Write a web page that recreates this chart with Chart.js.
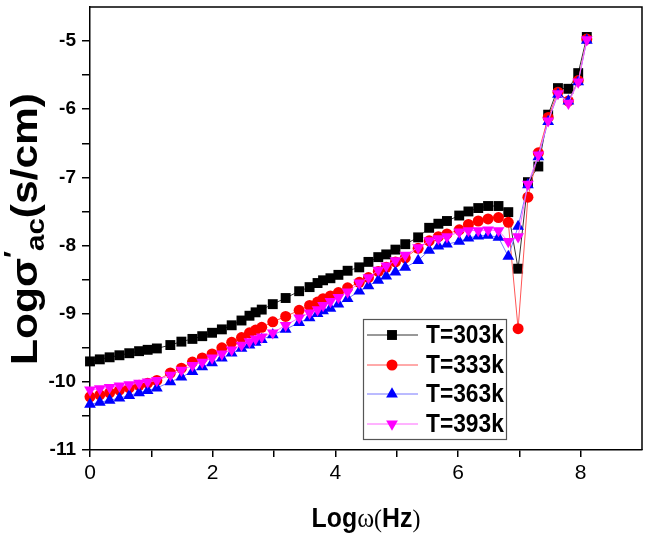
<!DOCTYPE html>
<html><head><meta charset="utf-8">
<script src="https://cdn.jsdelivr.net/npm/chart.js@4.4.1/dist/chart.umd.min.js"></script>
<style>html,body{margin:0;padding:0;background:#fff}canvas{display:block}</style>
</head><body>
<canvas id="c" width="649" height="534"></canvas>
<script>
// Log of angular frequency (x values)
const logW = [0.00,0.16,0.32,0.48,0.64,0.80,0.94,1.09,1.31,1.49,1.67,1.83,1.99,2.15,2.31,2.47,2.60,2.70,2.80,2.98,
  3.19,3.41,3.58,3.71,3.80,3.92,4.05,4.20,4.39,4.54,4.70,4.83,4.98,5.14,5.35,5.53,5.68,5.82,6.02,6.17,
  6.33,6.49,6.66,6.82,6.98,7.14,7.31,7.47,7.63,7.80,7.96,8.10];
// Log sigma'ac values per temperature
const sig303 = [-9.70,-9.67,-9.64,-9.61,-9.58,-9.55,-9.53,-9.51,-9.46,-9.41,-9.37,-9.33,-9.28,-9.23,-9.17,-9.10,-9.03,-8.98,-8.94,-8.86,
  -8.77,-8.67,-8.61,-8.55,-8.51,-8.48,-8.43,-8.37,-8.32,-8.24,-8.17,-8.13,-8.06,-7.98,-7.88,-7.74,-7.68,-7.64,-7.56,-7.50,
  -7.45,-7.42,-7.42,-7.51,-8.34,-7.07,-6.84,-6.08,-5.69,-5.70,-5.47,-4.94];
const sig333 = [-10.22,-10.19,-10.16,-10.12,-10.09,-10.05,-10.02,-9.98,-9.87,-9.80,-9.71,-9.65,-9.59,-9.50,-9.42,-9.35,-9.28,-9.24,-9.20,-9.12,
  -9.04,-8.95,-8.88,-8.83,-8.78,-8.74,-8.69,-8.62,-8.54,-8.47,-8.38,-8.32,-8.24,-8.18,-8.04,-7.93,-7.87,-7.83,-7.77,-7.69,
  -7.64,-7.61,-7.59,-7.66,-9.22,-7.29,-6.64,-6.12,-5.75,-5.88,-5.58,-4.97];
const sig363 = [-10.33,-10.30,-10.27,-10.24,-10.20,-10.16,-10.13,-10.09,-10.00,-9.93,-9.85,-9.78,-9.72,-9.65,-9.58,-9.51,-9.46,-9.42,-9.38,-9.31,
  -9.23,-9.13,-9.06,-9.00,-8.96,-8.92,-8.86,-8.78,-8.67,-8.59,-8.51,-8.45,-8.39,-8.32,-8.22,-8.07,-8.01,-7.98,-7.94,-7.89,
  -7.86,-7.85,-7.88,-8.16,-7.72,-7.11,-6.70,-6.18,-5.78,-5.88,-5.60,-4.99];
const sig393 = [-10.12,-10.10,-10.08,-10.06,-10.04,-10.02,-10.00,-9.98,-9.90,-9.83,-9.76,-9.71,-9.65,-9.59,-9.53,-9.46,-9.41,-9.37,-9.34,-9.28,
  -9.17,-9.06,-8.99,-8.94,-8.88,-8.82,-8.76,-8.68,-8.55,-8.47,-8.36,-8.30,-8.22,-8.14,-8.03,-7.93,-7.90,-7.87,-7.80,-7.78,
  -7.78,-7.77,-7.78,-7.94,-7.87,-7.10,-6.67,-6.17,-5.77,-5.91,-5.60,-4.98];
const seriesLabels = ['T=303k','T=333k','T=363k','T=393k'];
const xTickValues = [0,2,4,6,8];
const yTickValues = [-11,-10,-9,-8,-7,-6,-5];

const SANS = '"Liberation Sans", Arial, sans-serif';
const SERIF = '"Liberation Serif", "Times New Roman", serif';

const styles = [
  {line:'#333333', fill:'#000000', shape:'rect', r:7, rot:0},
  {line:'#ff5555', fill:'#ff0000', shape:'circle', r:5.5, rot:0},
  {line:'#7777ff', fill:'#0000ff', shape:'triangle', r:6.8, rot:0},
  {line:'#ff66ff', fill:'#ff00ff', shape:'triangle', r:6.8, rot:180}
];
const seriesData = [sig303, sig333, sig363, sig393];

const datasets = seriesData.map((arr, k) => ({
  label: seriesLabels[k],
  data: logW.map((x, i) => ({x: x, y: arr[i]})),
  borderColor: styles[k].line,
  borderWidth: 1,
  backgroundColor: styles[k].fill,
  pointBackgroundColor: styles[k].fill,
  pointBorderColor: styles[k].fill,
  pointBorderWidth: 0,
  pointStyle: styles[k].shape,
  pointRadius: styles[k].r,
  pointRotation: styles[k].rot,
  tension: 0,
  clip: false,
  order: 4 - k
}));

function drawMarker(ctx, shape, x, y, r, rot, color) {
  ctx.save();
  ctx.fillStyle = color;
  ctx.beginPath();
  if (shape === 'rect') {
    const s = r * Math.SQRT1_2;
    ctx.rect(x - s, y - s, 2 * s, 2 * s);
  } else if (shape === 'circle') {
    ctx.arc(x, y, r, 0, Math.PI * 2);
  } else {
    let a = rot * Math.PI / 180;
    ctx.moveTo(x + Math.sin(a) * r, y - Math.cos(a) * r);
    a += 2 * Math.PI / 3;
    ctx.lineTo(x + Math.sin(a) * r, y - Math.cos(a) * r);
    a += 2 * Math.PI / 3;
    ctx.lineTo(x + Math.sin(a) * r, y - Math.cos(a) * r);
    ctx.closePath();
  }
  ctx.fill();
  ctx.restore();
}

function condensedText(ctx, text, font, x, y, sx, align, baseline) {
  ctx.save();
  ctx.font = font;
  ctx.textAlign = align || 'left';
  ctx.textBaseline = baseline || 'alphabetic';
  ctx.translate(x, y);
  ctx.scale(sx, 1);
  ctx.fillText(text, 0, 0);
  ctx.restore();
}

const decor = {
  id: 'decor',
  afterDraw(chart) {
    const ctx = chart.ctx;
    const a = chart.chartArea;
    ctx.save();
    // top and right frame
    ctx.strokeStyle = '#000';
    ctx.lineWidth = 1.5;
    ctx.beginPath();
    ctx.moveTo(a.left, a.top);
    ctx.lineTo(a.right, a.top);
    ctx.lineTo(a.right, a.bottom);
    ctx.stroke();

    // X title: Logω(Hz)
    ctx.fillStyle = '#000';
    const sx = 0.92;
    const parts = [
      {t:'Log', f:'bold 27px ' + SANS},
      {t:'\u03C9', f:'28px ' + SERIF},
      {t:'(', f:'26px ' + SERIF},
      {t:'Hz', f:'bold 27px ' + SANS},
      {t:')', f:'26px ' + SERIF}
    ];
    let total = 0;
    parts.forEach(p => { ctx.font = p.f; p.w = ctx.measureText(p.t).width * sx; total += p.w; });
    let x = (a.left + a.right) / 2 - total / 2;
    parts.forEach(p => { condensedText(ctx, p.t, p.f, x, 527, sx); x += p.w; });

    // Y title: Logσ'ac(s/cm) rotated
    ctx.save();
    ctx.translate(37, 229);
    ctx.rotate(-Math.PI / 2);
    ctx.scale(1.18, 1);
    const big = 'bold 36px ' + SANS;
    const small = 'bold 25px ' + SANS;
    const yp = [
      {t:'Log\u03C3', f:big, dy:0},
      {t:'\u2032', f:small, dy:-15},
      {t:'ac', f:small, dy:7},
      {t:'(s/cm)', f:big, dy:0}
    ];
    let tot = 0;
    yp.forEach(p => { ctx.font = p.f; p.w = ctx.measureText(p.t).width; tot += p.w; });
    let tx = -tot / 2;
    yp.forEach(p => { ctx.font = p.f; ctx.textAlign = 'left'; ctx.textBaseline = 'alphabetic'; ctx.fillText(p.t, tx, p.dy); tx += p.w; });
    ctx.restore();

    // Legend
    const lx = 363, ly = 319, lw = 143, lh = 120;
    ctx.strokeStyle = '#555';
    ctx.lineWidth = 1.2;
    ctx.strokeRect(lx + 0.5, ly + 0.5, lw, lh);
    const rows = [335, 365, 394, 424];
    rows.forEach((ry, k) => {
      const st = styles[k];
      ctx.strokeStyle = st.line;
      ctx.lineWidth = 1;
      ctx.beginPath();
      ctx.moveTo(367, ry);
      ctx.lineTo(418, ry);
      ctx.stroke();
      drawMarker(ctx, st.shape, 392, ry, st.r, st.rot, st.fill);
      ctx.fillStyle = '#000';
      condensedText(ctx, seriesLabels[k], 'bold 25px ' + SANS, 426, ry + 1, 0.91, 'left', 'middle');
    });
    ctx.restore();
  }
};

new Chart(document.getElementById('c'), {
  type: 'line',
  data: { datasets: datasets },
  options: {
    responsive: false,
    animation: false,
    devicePixelRatio: 1,
    layout: { padding: { left: 0, right: 6, top: 4, bottom: 0 } },
    plugins: { legend: { display: false }, tooltip: { enabled: false } },
    scales: {
      x: {
        type: 'linear', min: 0, max: 9,
        afterFit(s) { s.height = 84; s.paddingLeft = 0; s.paddingRight = 0; },
        afterBuildTicks(s) { s.ticks = s.ticks.filter(t => t.value < 8.5); },
        ticks: {
          stepSize: 1, autoSkip: false, maxRotation: 0, padding: 4, color: '#000',
          font: { family: SANS, size: 21 },
          callback: v => xTickValues.includes(v) ? String(v) : ''
        },
        grid: { drawOnChartArea: false, drawTicks: true, tickLength: 7, color: '#000', lineWidth: 1.5 },
        border: { display: true, color: '#000', width: 1.5 }
      },
      y: {
        type: 'linear', min: -11, max: -4.5,
        afterFit(s) { s.width = 90; s.paddingTop = 0; s.paddingBottom = 0; },
        afterBuildTicks(s) { s.ticks = s.ticks.filter(t => t.value < -4.6); },
        ticks: {
          stepSize: 0.5, autoSkip: false, padding: 6, color: '#000',
          font: { family: SANS, size: 19, weight: 'bold' },
          callback: v => yTickValues.includes(v) ? String(v) : ''
        },
        grid: { drawOnChartArea: false, drawTicks: true, tickLength: 8, color: '#000', lineWidth: 1.5 },
        border: { display: true, color: '#000', width: 1.5 }
      }
    }
  },
  plugins: [decor]
});
</script>
</body></html>
